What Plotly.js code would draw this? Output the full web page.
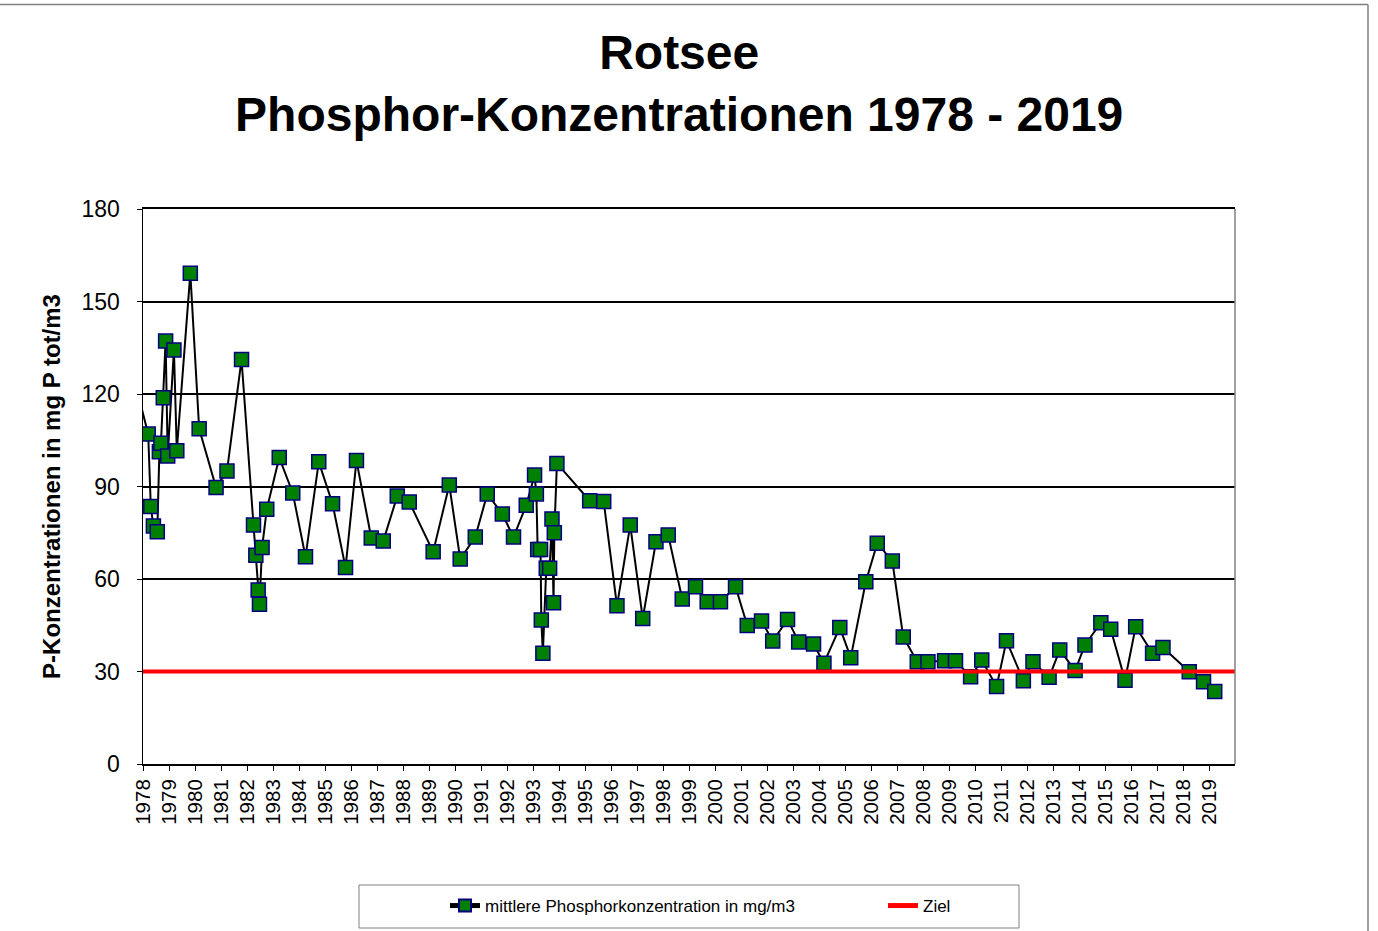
<!DOCTYPE html>
<html>
<head>
<meta charset="utf-8">
<script src="https://cdn.plot.ly/plotly-3.0.1.min.js"></script>
<style>html,body{margin:0;padding:0;background:#fff;}#chart{width:1378px;height:931px;}</style>
</head>
<body>
<div id="chart"></div>
<script>
// Sampling dates (decimal years) and mean phosphorus concentration (mg/m3)
const sampleYears = [1977.6, 1978.20, 1978.30, 1978.40, 1978.55, 1978.63, 1978.69, 1978.78, 1978.87, 1978.95,
  1979.19, 1979.30, 1979.82, 1980.16, 1980.81, 1981.23, 1981.79, 1982.25, 1982.34, 1982.43,
  1982.48, 1982.58, 1982.76, 1983.24, 1983.76, 1984.25, 1984.76, 1985.29, 1985.79, 1986.21,
  1986.78, 1987.24, 1987.78, 1988.24, 1989.16, 1989.78, 1990.20, 1990.78, 1991.24, 1991.82,
  1992.25, 1992.74, 1993.06, 1993.13, 1993.18, 1993.29, 1993.32, 1993.38, 1993.51, 1993.64,
  1993.73, 1993.79, 1993.82, 1993.92, 1995.18, 1995.72, 1996.23, 1996.74, 1997.22, 1997.73,
  1998.20, 1998.74, 1999.25, 1999.70, 2000.21, 2000.79, 2001.24, 2001.79, 2002.22, 2002.79,
  2003.22, 2003.79, 2004.19, 2004.80, 2005.22, 2005.80, 2006.24, 2006.82, 2007.24, 2007.78,
  2008.19, 2008.83, 2009.25, 2009.83, 2010.26, 2010.83, 2011.21, 2011.86, 2012.23, 2012.85,
  2013.26, 2013.85, 2014.23, 2014.84, 2015.22, 2015.77, 2016.18, 2016.83, 2017.23, 2018.24,
  2018.79, 2019.22];
const phosphorValues = [126.9, 107.0, 83.5, 77.2, 75.3, 101.3, 104.0, 118.8, 137.2, 99.9,
  134.3, 101.6, 159.2, 108.7, 89.7, 95.0, 131.2, 77.5, 67.7, 56.4,
  51.8, 70.2, 82.6, 99.4, 87.9, 67.2, 98.0, 84.4, 63.7, 98.4,
  73.3, 72.3, 86.9, 85.0, 68.8, 90.5, 66.5, 73.6, 87.6, 81.1,
  73.6, 83.9, 93.7, 87.6, 69.6, 69.6, 46.7, 35.9, 63.5, 63.5,
  79.5, 52.3, 75.0, 97.5, 85.4, 85.1, 51.3, 77.5, 47.2, 72.1,
  74.3, 53.5, 57.5, 52.6, 52.6, 57.5, 44.9, 46.4, 39.9, 46.9,
  39.6, 38.9, 32.7, 44.3, 34.5, 59.1, 71.6, 65.8, 41.2, 33.2,
  33.2, 33.5, 33.5, 28.3, 33.7, 25.1, 40.0, 27.0, 33.2, 28.1,
  37.0, 30.3, 38.6, 45.8, 43.7, 27.2, 44.5, 35.9, 37.8, 29.9,
  26.7, 23.5];
// Target ("Ziel") line
const zielYears = [1978, 2020];
const zielValues = [30, 30];
// Axis ticks
const yearTicks = [];
for (let y = 1978; y <= 2019; y++) yearTicks.push(y);
const yearTickLabels = yearTicks.map(String);
const yTicks = [0, 30, 60, 90, 120, 150, 180];

const FONT = 'Arial, "Liberation Sans", sans-serif';

const traces = [
  {
    x: sampleYears, y: phosphorValues, type: 'scatter', mode: 'lines+markers',
    name: 'mittlere Phosphorkonzentration in mg/m3',
    line: {color: '#000000', width: 2},
    marker: {symbol: 'square', size: 14, color: '#008000', line: {color: '#000080', width: 1.5}},
    cliponaxis: true
  },
  {
    x: zielYears, y: zielValues, type: 'scatter', mode: 'lines',
    name: 'Ziel',
    line: {color: '#ff0000', width: 4},
    cliponaxis: false
  }
];

const layout = {
  width: 1378, height: 931,
  margin: {l: 143, r: 143, t: 209, b: 167, autoexpand: false},
  paper_bgcolor: '#ffffff', plot_bgcolor: '#ffffff',
  font: {family: FONT, color: '#000000'},
  title: {
    text: '<b>Rotsee<br>Phosphor-Konzentrationen 1978 - 2019</b>',
    font: {family: FONT, size: 48, color: '#000000'},
    x: 0.491, xanchor: 'center', xref: 'paper',
    y: 1 - 69 / 931, yanchor: 'middle', yref: 'container'
  },
  xaxis: {
    range: [1978, 2020], tickmode: 'array', tickvals: yearTicks, ticktext: yearTickLabels,
    tickangle: -90, ticks: 'outside', ticklen: 5, tickwidth: 1, tickcolor: '#000000',
    tickfont: {family: FONT, size: 20.5, color: '#000000'},
    showgrid: false, zeroline: false, showline: true, mirror: true, linecolor: '#000000', linewidth: 2,
    fixedrange: true
  },
  yaxis: {
    range: [0, 180], tickmode: 'array', tickvals: yTicks,
    ticks: 'outside', ticklen: 5, tickwidth: 1, tickcolor: '#000000',
    tickfont: {family: FONT, size: 23, color: '#000000'},
    ticklabelstandoff: 12,
    showgrid: true, gridcolor: '#000000', gridwidth: 2,
    zeroline: false, showline: true, linecolor: '#000000', linewidth: 1.5,
    title: {text: '<b>P-Konzentrationen in mg P tot/m3</b>', font: {family: FONT, size: 24, color: '#000000'}, standoff: 14},
    fixedrange: true
  },
  showlegend: true,
  legend: {
    orientation: 'h', x: (445 - 143) / 1092, xanchor: 'left', xref: 'paper',
    y: (764 - 906) / 555, yanchor: 'middle', yref: 'paper',
    bgcolor: 'rgba(0,0,0,0)', borderwidth: 0,
    entrywidth: 393, entrywidthmode: 'pixels',
    font: {family: FONT, size: 17, color: '#000000'},
    itemsizing: 'constant'
  },
  shapes: [
    // plot area right border
    {type: 'line', xref: 'paper', yref: 'paper', x0: 1, x1: 1, y0: 0, y1: 1, line: {color: '#808080', width: 1.5}},
    // outer chart border (top and right)
    {type: 'line', xref: 'paper', yref: 'paper', x0: (0 - 143) / 1092, x1: (1368 - 143) / 1092, y0: (764 - 4.5) / 555, y1: (764 - 4.5) / 555, line: {color: '#808080', width: 1.5}},
    {type: 'line', xref: 'paper', yref: 'paper', x0: (1368 - 143) / 1092, x1: (1368 - 143) / 1092, y0: (764 - 4.5) / 555, y1: (764 - 940) / 555, line: {color: '#808080', width: 1.5}},
    // legend box
    {type: 'rect', xref: 'paper', yref: 'paper', x0: (359 - 143) / 1092, x1: (1019 - 143) / 1092, y0: (764 - 885) / 555, y1: (764 - 928) / 555, line: {color: '#808080', width: 1}, fillcolor: 'rgba(0,0,0,0)'}
  ]
};

Plotly.newPlot('chart', traces, layout, {displayModeBar: false, staticPlot: true});
</script>
</body>
</html>
